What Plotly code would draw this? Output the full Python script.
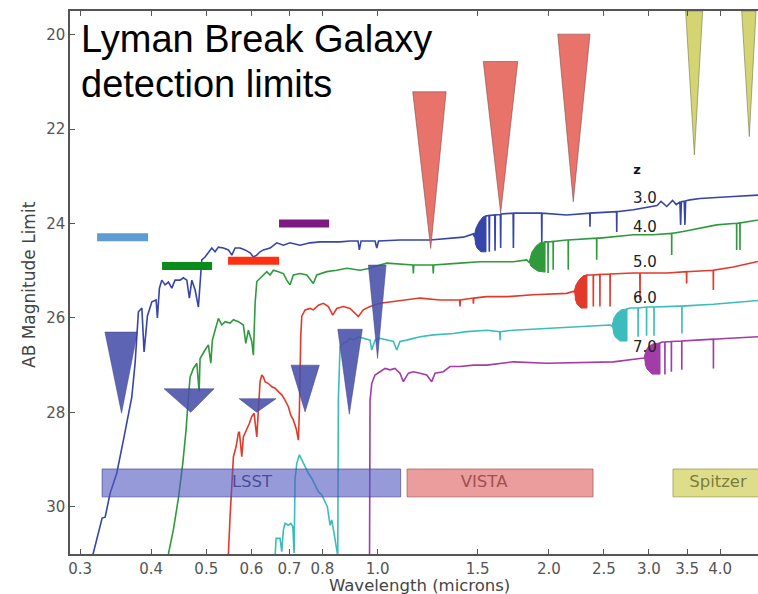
import math
import plotly.graph_objects as go

# ---------------- data (wavelength in microns, AB magnitude) ----------------
z3_wave = [0.314, 0.3162, 0.3280, 0.3320, 0.3388, 0.3480, 0.3575, 0.3648, 0.3698, 0.3748, 0.3799, 0.3852,
           0.3887, 0.3940, 0.4011, 0.4081, 0.4102, 0.4136, 0.4176, 0.4232, 0.4289, 0.4348, 0.4406, 0.4497,
           0.4557, 0.4621, 0.4669, 0.4716, 0.4779, 0.4843, 0.4876, 0.4909, 0.4975, 0.5042, 0.5112, 0.5181,
           0.5251, 0.5358, 0.5468, 0.5544, 0.5619, 0.5732, 0.5850, 0.5969, 0.6050, 0.6134, 0.6216, 0.6300,
           0.6473, 0.6650, 0.6831, 0.7017, 0.7307, 0.7609, 0.7925, 0.8251, 0.8592, 0.8948, 0.9240, 0.9290,
           0.9354, 0.9899, 0.9968, 1.004, 1.095, 1.237, 1.341, 1.415, 1.474, 1.478, 1.551,
           1.570, 1.572, 1.574, 1.607, 1.609, 1.611, 1.644, 1.646, 1.648, 1.731, 1.733, 1.735,
           1.942, 1.944, 1.946, 2.150, 2.361, 2.363, 2.365, 2.631, 2.633, 2.635, 2.817, 3.013,
           3.10, 3.15, 3.224, 3.30, 3.35, 3.40, 3.41, 3.42, 3.46, 3.47, 3.48, 3.542, 3.688, 4.220, 4.664, 5.0]
z3_mag = [31.2, 31.0, 30.24, 30.22, 29.71, 29.29, 28.59, 28.06, 27.68, 26.96, 25.87, 25.79,
          26.72, 25.96, 25.66, 25.62, 26.00, 25.37, 25.20, 25.30, 25.24, 25.37, 25.20, 25.20,
          25.15, 25.20, 25.58, 25.20, 25.41, 25.77, 25.13, 24.77, 24.71, 24.62, 24.52, 24.60,
          24.50, 24.52, 24.56, 24.67, 24.52, 24.52, 24.56, 24.62, 24.71, 24.67, 24.60, 24.56,
          24.52, 24.41, 24.46, 24.41, 24.46, 24.41, 24.39, 24.39, 24.39, 24.37, 24.37, 24.56,
          24.37, 24.37, 24.52, 24.37, 24.35, 24.35, 24.31, 24.29, 24.22, 24.27, 23.84,
          23.83, 24.60, 23.83, 23.82, 24.58, 23.82, 23.81, 24.52, 23.80, 23.78, 24.52, 23.78,
          23.78, 24.39, 23.78, 23.82, 23.78, 24.07, 23.78, 23.75, 24.18, 23.75, 23.71, 23.64,
          23.62, 23.53, 23.64, 23.51, 23.60, 23.54, 24.03, 23.54, 23.53, 24.03, 23.52, 23.50, 23.47, 23.43, 23.40, 23.38]

z4_wave = [0.4248, 0.4289, 0.4376, 0.4466, 0.4546, 0.4607, 0.4651, 0.4683, 0.4746, 0.4812, 0.4857, 0.4876,
           0.4975, 0.5042, 0.5092, 0.5125, 0.5181, 0.5251, 0.5324, 0.5395, 0.5505, 0.5580, 0.5693, 0.5809,
           0.5867, 0.5928, 0.6010, 0.6050, 0.6092, 0.6134, 0.6216, 0.6300, 0.6387, 0.6473, 0.6560, 0.6694,
           0.6831, 0.6925, 0.7017, 0.7112, 0.7307, 0.7508, 0.7712, 0.7818, 0.8143, 0.8478, 0.8830, 0.9316,
           0.9701, 1.010, 1.038, 1.154, 1.156, 1.158, 1.251, 1.253, 1.255, 1.396, 1.514, 1.733, 1.829,
           1.846, 1.970, 1.993, 1.994, 1.995, 2.035, 2.036, 2.037, 2.150, 2.163, 2.164, 2.165,
           2.427, 2.428, 2.429, 2.460, 2.817, 3.051, 3.288, 3.289, 3.290, 3.446, 3.688, 3.946, 4.220,
           4.277, 4.278, 4.280, 4.334, 4.336, 4.338, 4.639, 5.0]
z4_mag = [31.13, 31.00, 30.49, 29.82, 29.08, 28.37, 27.67, 27.25, 27.07, 26.96, 27.56, 26.86,
          26.68, 26.57, 26.96, 26.47, 26.26, 26.01, 26.15, 26.08, 26.11, 26.04, 26.08, 26.15,
          26.54, 26.26, 26.50, 26.79, 25.69, 25.23, 25.16, 25.09, 25.02, 25.09, 24.99, 25.02,
          25.06, 25.20, 25.30, 25.09, 25.06, 25.09, 25.27, 25.09, 25.02, 24.99, 24.95, 24.99,
          24.95, 24.88, 24.84, 24.88, 25.06, 24.88, 24.88, 25.06, 24.88, 24.84, 24.81, 24.81, 24.77,
          24.82, 24.39, 24.39, 25.05, 24.39, 24.38, 24.98, 24.38, 24.35, 24.35, 24.98, 24.35,
          24.31, 24.77, 24.31, 24.31, 24.24, 24.24, 24.21, 24.67, 24.21, 24.17, 24.10, 24.03, 24.00,
          24.00, 24.56, 24.00, 23.99, 24.56, 23.99, 23.93, 23.88]

z5_wave = [0.5438, 0.5468, 0.5505, 0.5544, 0.5580, 0.5640, 0.5693, 0.5716, 0.5772, 0.5809, 0.5890, 0.5953,
           0.6010, 0.6067, 0.6134, 0.6173, 0.6216, 0.6259, 0.6300, 0.6343, 0.6429, 0.6518, 0.6606, 0.6694,
           0.6786, 0.6877, 0.6970, 0.7038, 0.7112, 0.7192, 0.7259, 0.7289, 0.7307, 0.7328, 0.7358, 0.7458,
           0.7609, 0.7712, 0.7870, 0.8030, 0.8195, 0.8343, 0.8478, 0.8707, 0.8948, 0.9131, 0.9254, 0.9441,
           0.9701, 1.010, 1.052, 1.110, 1.188, 1.288, 1.394, 1.396, 1.398, 1.472, 1.474, 1.476, 1.556,
           1.687, 1.878, 2.150, 2.208, 2.215, 2.334, 2.363, 2.394, 2.395, 2.396, 2.459, 2.460, 2.461,
           2.562, 2.563, 2.564, 2.817, 2.891, 2.893, 2.895, 3.224, 3.492, 3.494, 3.496, 3.891, 3.893, 3.895,
           4.220, 4.639, 5.0]
z5_mag = [31.13, 31.00, 30.21, 29.43, 28.94, 28.73, 28.44, 28.41, 28.94, 28.52, 28.37, 28.23,
          28.09, 28.02, 28.52, 27.88, 27.35, 27.21, 27.25, 27.35, 27.39, 27.46, 27.49, 27.56,
          27.63, 27.74, 27.88, 28.06, 28.16, 28.34, 28.59, 27.95, 26.89, 26.40, 25.97, 25.83,
          25.80, 25.83, 25.73, 25.69, 25.76, 25.94, 25.80, 25.76, 25.80, 25.90, 25.97, 25.83,
          25.76, 25.69, 25.66, 25.62, 25.58, 25.62, 25.62, 25.76, 25.62, 25.58, 25.70, 25.58, 25.55,
          25.55, 25.51, 25.48, 25.44, 25.45, 25.09, 25.09, 25.09, 25.76, 25.09, 25.08, 25.76, 25.08,
          25.07, 25.76, 25.07, 25.05, 25.05, 25.62, 25.05, 25.05, 25.02, 25.27, 25.02, 24.99, 25.41, 24.99,
          24.92, 24.81, 24.75]

z6_wave = [0.6606, 0.6632, 0.6739, 0.6786, 0.6831, 0.6877, 0.6970, 0.7038, 0.7096, 0.7134, 0.7162, 0.7212,
           0.7289, 0.7358, 0.7458, 0.7559, 0.7664, 0.7767, 0.7870, 0.7978, 0.8086, 0.8162, 0.8251, 0.8308,
           0.8385, 0.8478, 0.8513, 0.8533, 0.8568, 0.8592, 0.8707, 0.8830, 0.8948, 0.9068, 0.9254, 0.9441,
           0.9701, 0.9768, 0.9899, 1.010, 1.038, 1.066, 1.081, 1.095, 1.125, 1.188, 1.253, 1.359, 1.435,
           1.556, 1.640, 1.642, 1.644, 1.733, 1.984, 2.270, 2.563, 2.583, 2.745, 2.779, 2.870, 2.871, 2.872,
           2.970, 2.971, 2.972, 3.061, 3.062, 3.063, 3.401, 3.427, 3.428, 3.429, 3.893, 4.639, 5.0]
z6_mag = [31.04, 30.67, 30.67, 30.95, 30.49, 30.35, 30.39, 30.35, 30.42, 30.98, 29.40, 29.08,
          28.90, 29.01, 29.15, 29.29, 29.40, 29.54, 29.68, 29.75, 29.89, 30.00, 30.39, 30.28,
          30.56, 30.85, 31.04, 27.74, 26.82, 26.61, 26.54, 26.50, 26.43, 26.47, 26.40, 26.43,
          26.47, 26.68, 26.47, 26.43, 26.47, 26.50, 26.68, 26.50, 26.47, 26.40, 26.36, 26.33, 26.29,
          26.26, 26.29, 26.47, 26.29, 26.26, 26.22, 26.19, 26.15, 26.17, 25.81, 25.79, 25.79, 26.40, 25.79,
          25.77, 26.38, 25.77, 25.77, 26.38, 25.77, 25.75, 25.75, 26.33, 25.75, 25.71, 25.64, 25.60]

z7_wave = [0.9681, 0.9701, 0.9768, 0.9899, 1.010, 1.031, 1.052, 1.073, 1.095, 1.110, 1.133, 1.156,
           1.188, 1.220, 1.245, 1.262, 1.305, 1.341, 1.396, 1.474, 1.556, 1.642, 1.733, 1.984,
           2.270, 2.597, 2.893, 2.941, 3.137, 3.162, 3.199, 3.200, 3.201, 3.284, 3.285, 3.286,
           3.425, 3.426, 3.427, 3.639, 3.893, 3.894, 3.895, 4.164, 4.639, 5.0]
z7_mag = [31.04, 27.74, 27.39, 27.21, 27.14, 27.07, 27.10, 27.07, 27.17, 27.35, 27.17, 27.14,
          27.17, 27.21, 27.35, 27.17, 27.14, 27.03, 27.03, 27.00, 27.00, 26.96, 26.93, 26.96,
          26.95, 26.93, 26.86, 26.85, 26.53, 26.51, 26.51, 27.20, 26.51, 26.50, 27.14, 26.50,
          26.49, 27.10, 26.49, 26.47, 26.45, 27.07, 26.45, 26.43, 26.40, 26.38]

# dense Balmer-line combs (outline of each filled blob)
blob_z3_wave = [1.478, 1.490, 1.508, 1.533, 1.551, 1.551, 1.520, 1.496, 1.484]
blob_z3_mag = [24.27, 24.10, 23.97, 23.86, 23.84, 24.60, 24.60, 24.52, 24.41]
blob_z4_wave = [1.846, 1.869, 1.899, 1.930, 1.970, 1.970, 1.915, 1.876, 1.854]
blob_z4_mag = [24.82, 24.60, 24.48, 24.41, 24.39, 25.03, 25.01, 24.94, 24.88]
blob_z5_wave = [2.215, 2.233, 2.260, 2.297, 2.334, 2.334, 2.279, 2.242, 2.224]
blob_z5_mag = [25.45, 25.30, 25.20, 25.11, 25.09, 25.79, 25.79, 25.71, 25.58]
blob_z6_wave = [2.583, 2.604, 2.636, 2.679, 2.745, 2.745, 2.668, 2.615, 2.594]
blob_z6_mag = [26.17, 26.00, 25.90, 25.83, 25.81, 26.49, 26.49, 26.40, 26.30]
blob_z7_wave = [2.941, 2.964, 3.000, 3.049, 3.137, 3.137, 3.037, 2.976, 2.952]
blob_z7_mag = [26.85, 26.68, 26.60, 26.55, 26.53, 27.19, 27.19, 27.08, 26.97]

redshift_labels = ["3.0", "4.0", "5.0", "6.0", "7.0"]
redshift_label_mag = [23.48, 24.10, 24.84, 25.60, 26.64]
redshift_label_wave = 2.952

# Lyman-break threshold bars
bar_lo = [0.3214, 0.4180, 0.5461, 0.6712]
bar_hi = [0.3951, 0.5118, 0.6712, 0.8219]
bar_mag = [24.29, 24.90, 24.79, 24.00]

# survey depth triangles: left edge, right edge, apex wavelength, top mag, apex mag
lsst_left = [0.3317, 0.4214, 0.5710, 0.7045, 0.8513, 0.9634]
lsst_right = [0.3784, 0.5161, 0.6632, 0.7901, 0.9403, 1.035]
lsst_apex = [0.3548, 0.4694, 0.6134, 0.7458, 0.8920, 1.000]
lsst_top = [26.30, 27.50, 27.71, 27.00, 26.24, 24.88]
lsst_depth = [28.02, 28.00, 28.00, 27.99, 28.04, 26.86]

vista_left = [1.153, 1.534, 2.074]
vista_right = [1.320, 1.764, 2.363]
vista_apex = [1.240, 1.646, 2.208]
vista_top = [21.21, 20.57, 19.99]
vista_depth = [24.53, 23.78, 23.54]

spitzer_left = [3.480, 4.366]
spitzer_right = [3.728, 4.627]
spitzer_apex = [3.605, 4.502]
spitzer_top = [19.5, 19.5]
spitzer_depth = [22.55, 22.16]

# survey wavelength coverage boxes
survey_names = ["LSST", "VISTA", "Spitzer"]
survey_lo = [0.3280, 1.127, 3.306]
survey_hi = [1.098, 2.392, 4.72]
survey_label_wave = [0.6017, 1.539, 3.967]
box_top, box_bottom, box_label_mag = 29.20, 29.79, 29.50

x_ticks = [0.3, 0.4, 0.5, 0.6, 0.7, 0.8, 1.0, 1.5, 2.0, 2.5, 3.0, 3.5, 4.0]
x_tick_text = ["0.3", "0.4", "0.5", "0.6", "0.7", "0.8", "1.0", "1.5", "2.0", "2.5", "3.0", "3.5", "4.0"]
y_ticks = [20, 22, 24, 26, 28, 30]

# ---------------- figure ----------------
FONT = "DejaVu Sans"
fig = go.Figure()

spectra = [
    (z3_wave, z3_mag, blob_z3_wave, blob_z3_mag, "#3545a8"),
    (z4_wave, z4_mag, blob_z4_wave, blob_z4_mag, "#2e9a3c"),
    (z5_wave, z5_mag, blob_z5_wave, blob_z5_mag, "#e23a2a"),
    (z6_wave, z6_mag, blob_z6_wave, blob_z6_mag, "#3cbcbc"),
    (z7_wave, z7_mag, blob_z7_wave, blob_z7_mag, "#a23ca6"),
]
for w, m, bw, bm, col in spectra:
    fig.add_trace(go.Scatter(x=w, y=m, mode="lines", line=dict(color=col, width=1.6),
                             hoverinfo="skip", showlegend=False))
    fig.add_trace(go.Scatter(x=bw, y=bm, mode="lines", fill="toself", fillcolor=col,
                             line=dict(color=col, width=1), hoverinfo="skip", showlegend=False))

bar_colors = ["#5e9bd3", "#0a8c1a", "#ff3010", "#7c1a80"]
for lo, hi, mg, col in zip(bar_lo, bar_hi, bar_mag, bar_colors):
    fig.add_trace(go.Scatter(x=[lo, hi], y=[mg, mg], mode="lines", line=dict(color=col, width=8),
                             hoverinfo="skip", showlegend=False))

box_fill = ["rgba(80,86,192,0.6)", "rgba(222,90,90,0.6)", "rgba(200,200,60,0.6)"]
box_line = ["rgba(70,70,160,0.7)", "rgba(170,80,80,0.7)", "rgba(150,150,60,0.7)"]
box_text = ["rgba(60,60,140,0.85)", "rgba(150,70,70,0.9)", "rgba(110,110,50,0.9)"]
for name, lo, hi, lw, fc, lc, tc in zip(survey_names, survey_lo, survey_hi, survey_label_wave,
                                         box_fill, box_line, box_text):
    fig.add_trace(go.Scatter(x=[lo, hi, hi, lo, lo], y=[box_top, box_top, box_bottom, box_bottom, box_top],
                             mode="lines", fill="toself", fillcolor=fc, line=dict(color=lc, width=1),
                             hoverinfo="skip", showlegend=False))
    fig.add_trace(go.Scatter(x=[lw], y=[box_label_mag], mode="text", text=[name],
                             textfont=dict(family=FONT, size=16.5, color=tc),
                             hoverinfo="skip", showlegend=False))

tri_sets = [
    (lsst_left, lsst_right, lsst_apex, lsst_top, lsst_depth, "rgba(72,78,170,0.88)", "rgba(60,60,130,0.6)"),
    (vista_left, vista_right, vista_apex, vista_top, vista_depth, "rgba(230,108,98,0.95)", "rgba(120,70,70,0.7)"),
    (spitzer_left, spitzer_right, spitzer_apex, spitzer_top, spitzer_depth, "rgba(210,210,108,0.95)",
     "rgba(110,110,70,0.7)"),
]
for L, R, A, T, D, fc, lc in tri_sets:
    for l, r, a, t, d in zip(L, R, A, T, D):
        fig.add_trace(go.Scatter(x=[l, r, a, l], y=[t, t, d, t], mode="lines", fill="toself",
                                 fillcolor=fc, line=dict(color=lc, width=0.8),
                                 hoverinfo="skip", showlegend=False))

fig.add_trace(go.Scatter(x=[redshift_label_wave] * len(redshift_labels), y=redshift_label_mag,
                         mode="text", text=redshift_labels,
                         textfont=dict(family=FONT, size=15, color="#222222"),
                         hoverinfo="skip", showlegend=False))
fig.add_trace(go.Scatter(x=[2.858], y=[22.89], mode="text", text=["<b>z</b>"],
                         textfont=dict(family=FONT, size=13, color="#111111"),
                         hoverinfo="skip", showlegend=False))

fig.add_annotation(text="Lyman Break Galaxy", xref="paper", yref="paper", x=0.0131, y=0.9477,
                   xanchor="left", yanchor="middle", showarrow=False,
                   font=dict(family="Liberation Sans", size=38, color="black"))
fig.add_annotation(text="detection limits", xref="paper", yref="paper", x=0.0131, y=0.8648,
                   xanchor="left", yanchor="middle", showarrow=False,
                   font=dict(family="Liberation Sans", size=38, color="black"))

fig.add_annotation(text="AB Magnitude Limit", xref="paper", yref="paper",
                   x=(28.5 - 70) / 688, y=(554 - 284.5) / 543, textangle=-90,
                   xanchor="center", yanchor="middle", showarrow=False,
                   font=dict(family=FONT, size=17, color="#444444"))
fig.add_annotation(text="Wavelength (microns)", xref="paper", yref="paper",
                   x=(419.5 - 70) / 688, y=-(585 - 554) / 543,
                   xanchor="center", yanchor="middle", showarrow=False,
                   font=dict(family=FONT, size=16.5, color="#444444"))

fig.update_layout(
    width=758, height=594,
    margin=dict(l=70, r=0, t=11, b=40),
    paper_bgcolor="white", plot_bgcolor="white",
    showlegend=False,
    xaxis=dict(type="log", range=[math.log10(0.288), math.log10(4.664)],
               tickvals=x_ticks, ticktext=x_tick_text, ticks="inside", ticklen=5, tickwidth=1,
               tickcolor="#555555", showline=True, linecolor="#555555", linewidth=1.5, mirror="ticks",
               showgrid=False, zeroline=False,
               tickfont=dict(family=FONT, size=15, color="#555555")),
    yaxis=dict(range=[31.0, 19.5], tickvals=y_ticks, ticks="inside", ticklen=5, tickwidth=1,
               tickcolor="#555555", showline=True, linecolor="#555555", linewidth=1.5,
               showgrid=False, zeroline=False,
               tickfont=dict(family=FONT, size=15, color="#555555")),
)

fig.write_html("out.html")
